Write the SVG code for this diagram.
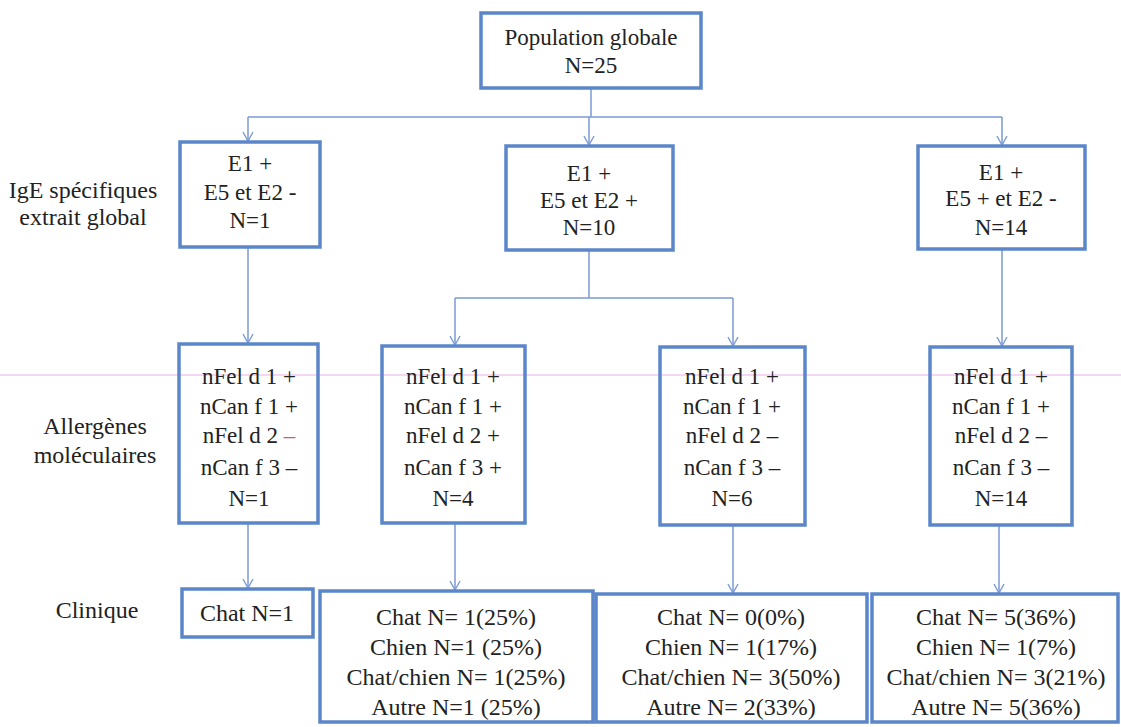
<svg xmlns="http://www.w3.org/2000/svg" width="1121" height="727" viewBox="0 0 1121 727">
<defs>
<marker id="arr" viewBox="0 0 12 12" refX="11" refY="6" markerWidth="12" markerHeight="12" markerUnits="userSpaceOnUse" orient="auto">
<path d="M2 1 L11 6 L2 11" fill="none" stroke="#7b9ad6" stroke-width="1.4"/>
</marker>
<style>
.box{fill:none;stroke:#5b86c9;stroke-width:3.5}
.t{font-family:'Liberation Serif','Tinos','DejaVu Serif',serif;font-size:23px;fill:#222;text-anchor:middle}
.b{font-size:24px}
.lab{font-family:'Liberation Serif','Tinos','DejaVu Serif',serif;font-size:24px;fill:#222;text-anchor:middle}
.c{fill:none;stroke:#7b9ad6;stroke-width:1.5}
.rule{stroke:#e8b0e6;stroke-width:1}
</style>
</defs>
<rect width="1121" height="727" fill="#ffffff"/>
<line class="rule" x1="0" y1="375" x2="1121" y2="375"/>
<g id="connectors">
<path class="c" d="M591 88 V117"/>
<path class="c" d="M248 117 H1002"/>
<path class="c" d="M248 117 V141" marker-end="url(#arr)"/>
<path class="c" d="M589 117 V145" marker-end="url(#arr)"/>
<path class="c" d="M1002 117 V145" marker-end="url(#arr)"/>
<path class="c" d="M248 247 V343" marker-end="url(#arr)"/>
<path class="c" d="M589 250 V298"/>
<path class="c" d="M455 298 H733"/>
<path class="c" d="M455 298 V345" marker-end="url(#arr)"/>
<path class="c" d="M733 298 V346" marker-end="url(#arr)"/>
<path class="c" d="M1002 249 V346" marker-end="url(#arr)"/>
<path class="c" d="M248 523 V588" marker-end="url(#arr)"/>
<path class="c" d="M455 523 V590" marker-end="url(#arr)"/>
<path class="c" d="M733 525 V593" marker-end="url(#arr)"/>
<path class="c" d="M999 525 V593" marker-end="url(#arr)"/>
</g>
<g id="labels">
<text class="lab" x="83" y="198">IgE spécifiques</text>
<text class="lab" x="83" y="225">extrait global</text>
<text class="lab" x="95" y="434">Allergènes</text>
<text class="lab" x="95" y="463">moléculaires</text>
<text class="lab" x="97" y="618">Clinique</text>
</g>
<g id="n-pop">
<rect class="box" x="481" y="13" width="220" height="75"/>
<text class="t" x="591" y="45">Population globale</text>
<text class="t" x="591" y="73">N=25</text>
</g>
<g id="n-e1">
<rect class="box" x="180" y="142" width="140" height="105"/>
<text class="t" x="250" y="171">E1 +</text>
<text class="t" x="250" y="200">E5 et E2 -</text>
<text class="t" x="250" y="228">N=1</text>
</g>
<g id="n-e2">
<rect class="box" x="506" y="146" width="167" height="104"/>
<text class="t" x="589" y="181">E1 +</text>
<text class="t" x="589" y="208">E5 et E2 +</text>
<text class="t" x="589" y="235">N=10</text>
</g>
<g id="n-e3">
<rect class="box" x="918" y="146" width="167" height="103"/>
<text class="t" x="1001" y="180">E1 +</text>
<text class="t" x="1001" y="206">E5 + et E2 -</text>
<text class="t" x="1001" y="235">N=14</text>
</g>
<g id="n-m1">
<rect class="box" x="179" y="344" width="139" height="179"/>
<text class="t" x="249" y="384">nFel d 1 +</text>
<text class="t" x="249" y="414">nCan f 1 +</text>
<text class="t" x="249" y="443">nFel d 2 <tspan fill="#c65a7a">–</tspan></text>
<text class="t" x="249" y="475">nCan f 3 –</text>
<text class="t" x="249" y="506">N=1</text>
</g>
<g id="n-m2">
<rect class="box" x="382" y="346" width="143" height="177"/>
<text class="t" x="453" y="384">nFel d 1 +</text>
<text class="t" x="453" y="414">nCan f 1 +</text>
<text class="t" x="453" y="443">nFel d 2 +</text>
<text class="t" x="453" y="475">nCan f 3 +</text>
<text class="t" x="453" y="506">N=4</text>
</g>
<g id="n-m3">
<rect class="box" x="660" y="347" width="145" height="178"/>
<text class="t" x="732" y="384">nFel d 1 +</text>
<text class="t" x="732" y="414">nCan f 1 +</text>
<text class="t" x="732" y="443">nFel d 2 –</text>
<text class="t" x="732" y="475">nCan f 3 –</text>
<text class="t" x="732" y="506">N=6</text>
</g>
<g id="n-m4">
<rect class="box" x="930" y="347" width="142" height="178"/>
<text class="t" x="1001" y="384">nFel d 1 +</text>
<text class="t" x="1001" y="414">nCan f 1 +</text>
<text class="t" x="1001" y="443">nFel d 2 –</text>
<text class="t" x="1001" y="475">nCan f 3 –</text>
<text class="t" x="1001" y="506">N=14</text>
</g>
<g id="n-c1">
<rect class="box" x="182" y="589" width="131" height="48"/>
<text class="t b" x="247" y="621">Chat N=1</text>
</g>
<g id="n-c2">
<rect class="box" x="320" y="591" width="273" height="131"/>
<text class="t b" x="456" y="625">Chat N= 1(25%)</text>
<text class="t b" x="456" y="655">Chien N=1 (25%)</text>
<text class="t b" x="456" y="685">Chat/chien N= 1(25%)</text>
<text class="t b" x="456" y="715">Autre N=1 (25%)</text>
</g>
<g id="n-c3">
<rect class="box" x="596" y="594" width="271" height="128"/>
<text class="t b" x="731" y="625">Chat N= 0(0%)</text>
<text class="t b" x="731" y="655">Chien N= 1(17%)</text>
<text class="t b" x="731" y="685">Chat/chien N= 3(50%)</text>
<text class="t b" x="731" y="715">Autre N= 2(33%)</text>
</g>
<g id="n-c4">
<rect class="box" x="872" y="594" width="246" height="128"/>
<text class="t b" x="996" y="625">Chat N= 5(36%)</text>
<text class="t b" x="996" y="655">Chien N= 1(7%)</text>
<text class="t b" x="996" y="685">Chat/chien N= 3(21%)</text>
<text class="t b" x="996" y="715">Autre N= 5(36%)</text>
</g>
</svg>
